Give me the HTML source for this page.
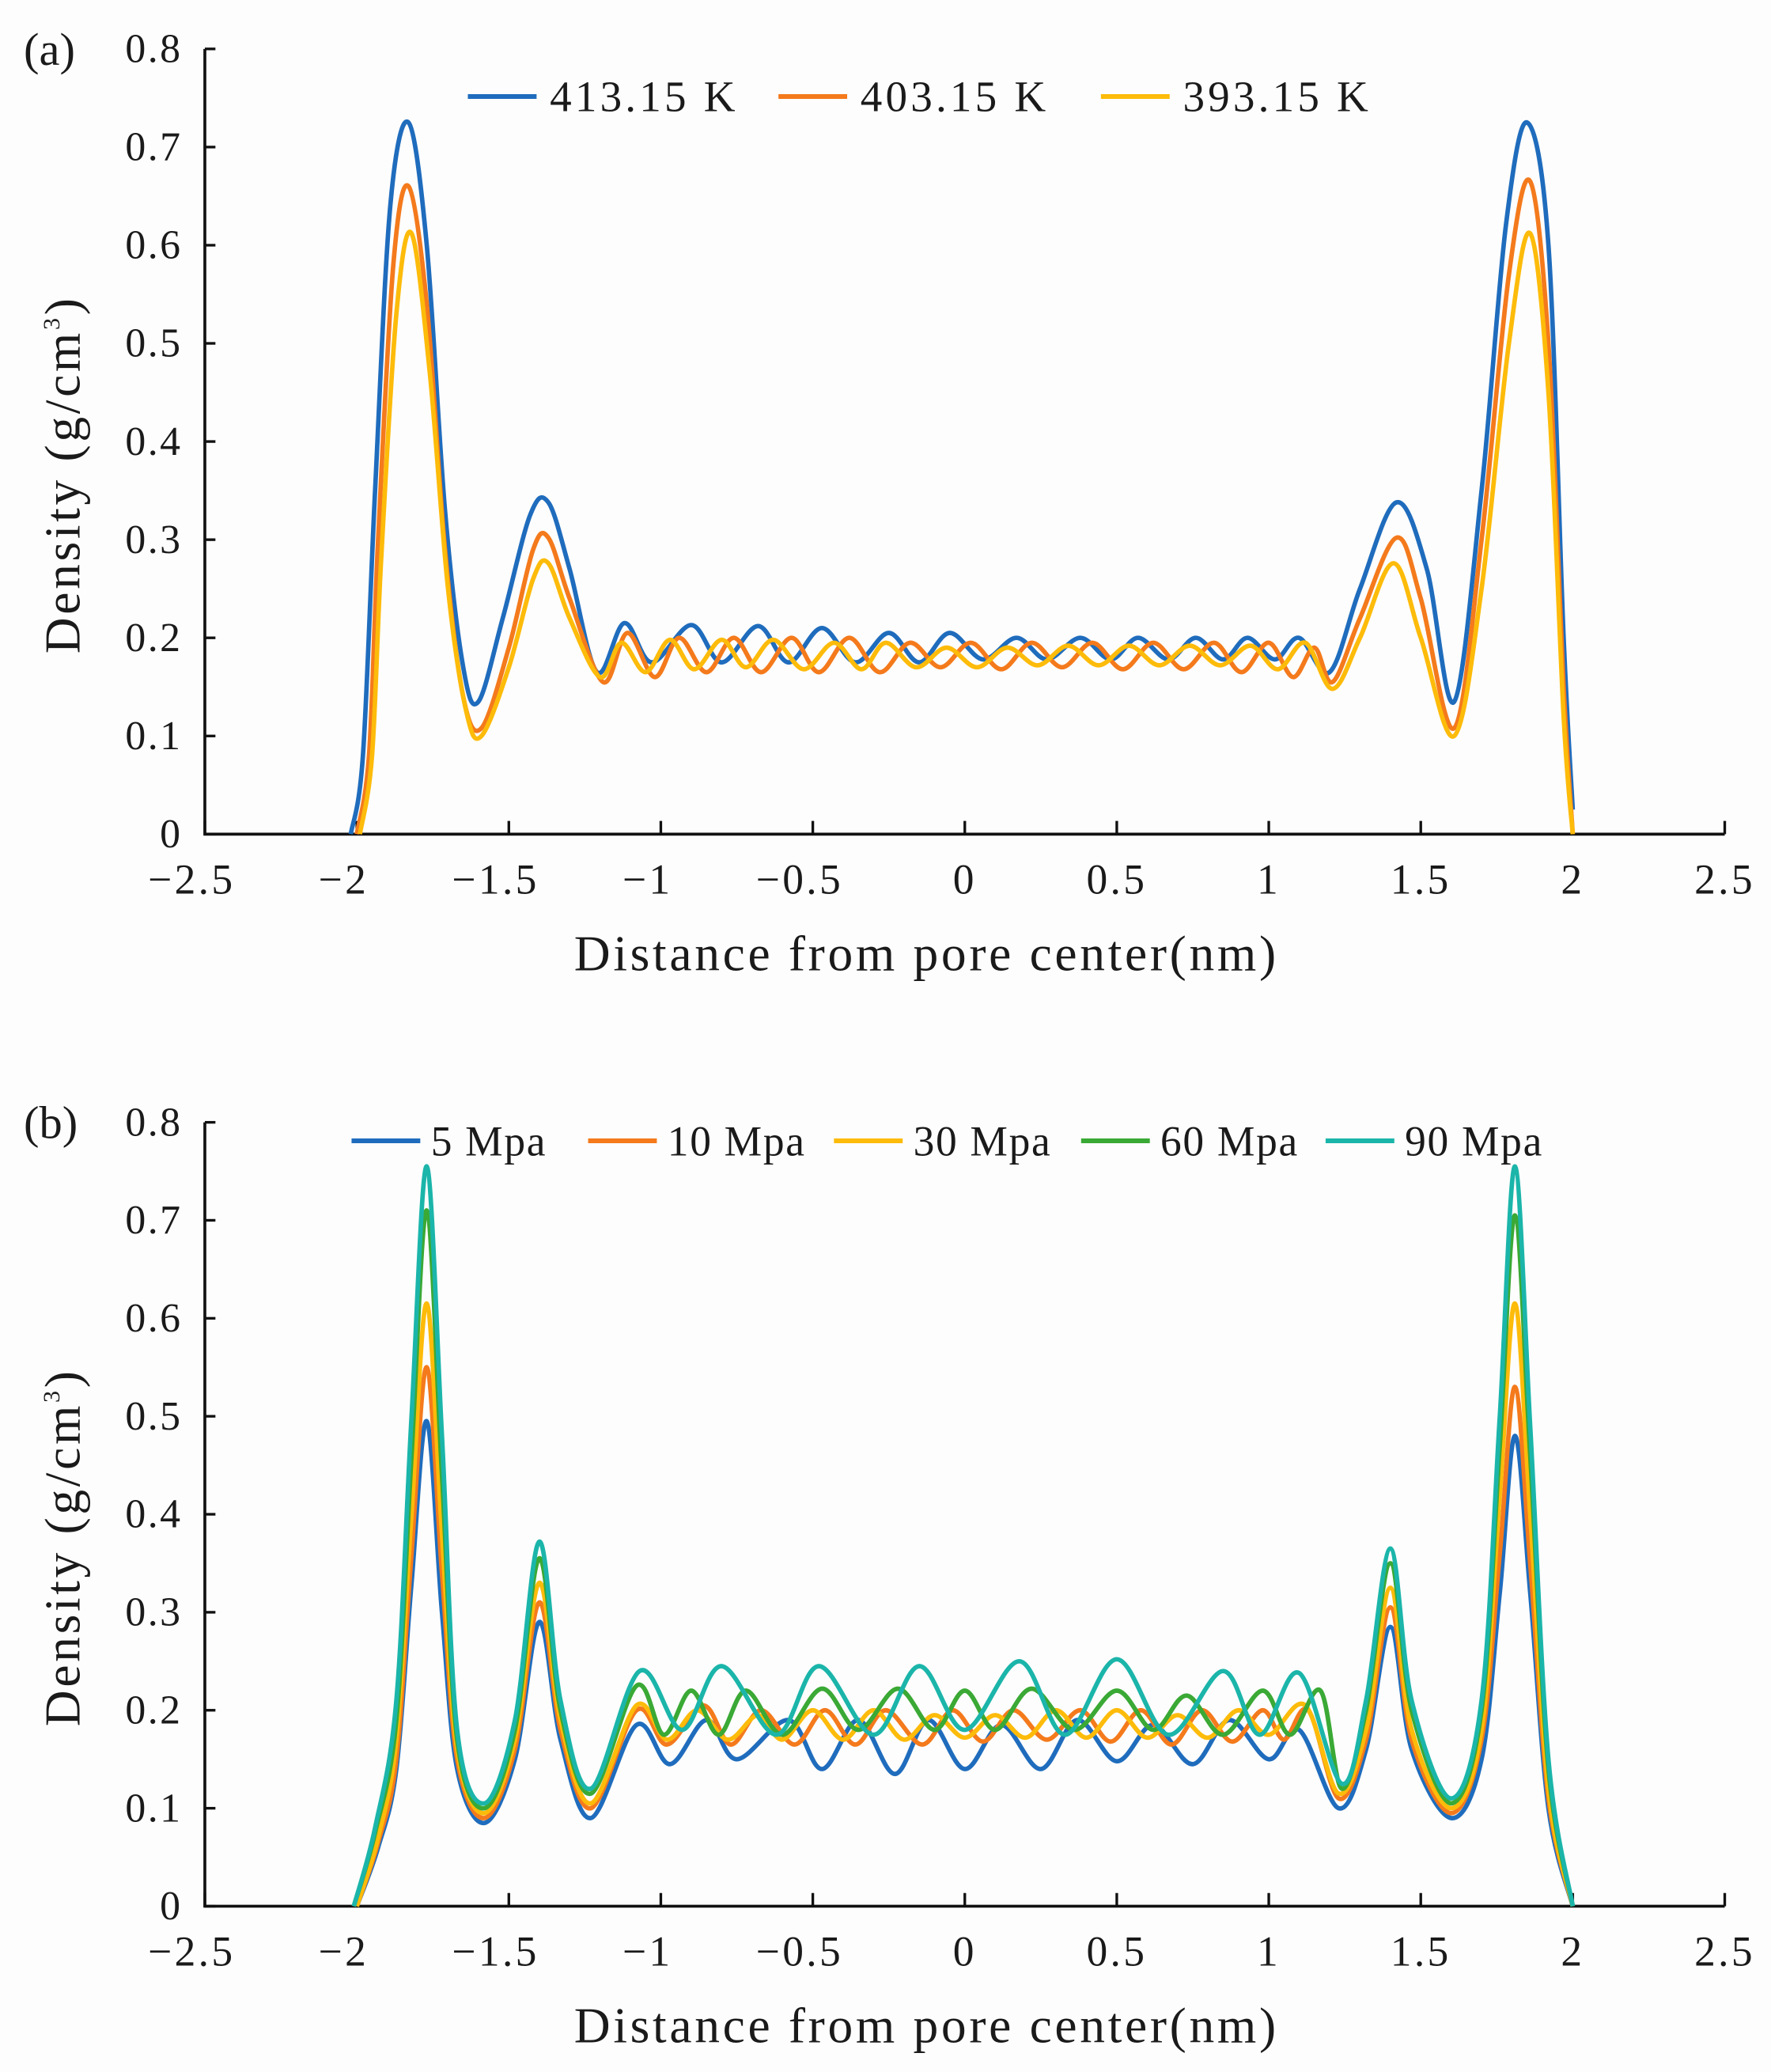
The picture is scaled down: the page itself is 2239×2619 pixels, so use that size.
<!DOCTYPE html>
<html><head><meta charset="utf-8"><style>
html,body{margin:0;padding:0;background:#fdfdfd;}
svg{display:block;}
text{font-family:"Liberation Serif",serif;fill:#1a1a1a;}
</style></head><body>
<svg id="fig" width="2239" height="2619" viewBox="0 0 1340 1567.4" preserveAspectRatio="none" xmlns="http://www.w3.org/2000/svg"></svg>
<script>
// ---- data ----
const xTicks = [-2.5,-2,-1.5,-1,-0.5,0,0.5,1,1.5,2,2.5];
const yTicks = [0,0.1,0.2,0.3,0.4,0.5,0.6,0.7,0.8];
const legendA = ["413.15 K","403.15 K","393.15 K"];
const legendB = ["5 Mpa","10 Mpa","30 Mpa","60 Mpa","90 Mpa"];
const a413 = [[-2.02,0],[-1.98,0.08],[-1.94,0.35],[-1.89,0.64],[-1.83,0.725],[-1.77,0.6],[-1.71,0.33],[-1.65,0.17],[-1.6,0.135],[-1.52,0.22],[-1.43,0.325],[-1.37,0.338],[-1.3,0.27],[-1.21,0.165],[-1.12,0.215],[-1.03,0.175],[-0.9,0.213],[-0.8,0.175],[-0.68,0.212],[-0.58,0.175],[-0.47,0.21],[-0.36,0.175],[-0.25,0.205],[-0.15,0.175],[-0.05,0.205],[0.06,0.178],[0.17,0.2],[0.27,0.178],[0.38,0.2],[0.48,0.178],[0.57,0.2],[0.67,0.178],[0.76,0.2],[0.85,0.178],[0.93,0.2],[1.02,0.178],[1.1,0.2],[1.2,0.165],[1.3,0.25],[1.42,0.338],[1.52,0.27],[1.61,0.135],[1.7,0.35],[1.78,0.62],[1.85,0.725],[1.92,0.6],[1.97,0.2],[2.0,0.025]];
const a403 = [[-2.0,0],[-1.96,0.08],[-1.93,0.3],[-1.88,0.58],[-1.83,0.66],[-1.77,0.54],[-1.71,0.29],[-1.65,0.14],[-1.59,0.108],[-1.5,0.19],[-1.42,0.29],[-1.37,0.302],[-1.3,0.24],[-1.19,0.155],[-1.11,0.205],[-1.02,0.16],[-0.94,0.2],[-0.85,0.165],[-0.76,0.2],[-0.67,0.165],[-0.57,0.2],[-0.48,0.165],[-0.38,0.2],[-0.28,0.165],[-0.18,0.195],[-0.08,0.17],[0.02,0.195],[0.12,0.168],[0.22,0.195],[0.32,0.17],[0.42,0.195],[0.52,0.168],[0.62,0.195],[0.72,0.168],[0.82,0.195],[0.91,0.165],[1.0,0.195],[1.08,0.16],[1.15,0.19],[1.21,0.155],[1.3,0.22],[1.42,0.302],[1.5,0.24],[1.61,0.108],[1.7,0.3],[1.79,0.57],[1.86,0.665],[1.92,0.5],[1.97,0.15],[2.0,0]];
const a393 = [[-1.99,0],[-1.95,0.08],[-1.92,0.28],[-1.87,0.53],[-1.82,0.612],[-1.76,0.47],[-1.7,0.25],[-1.64,0.125],[-1.59,0.1],[-1.5,0.17],[-1.42,0.26],[-1.37,0.276],[-1.3,0.22],[-1.2,0.16],[-1.13,0.195],[-1.05,0.165],[-0.97,0.198],[-0.89,0.168],[-0.8,0.198],[-0.72,0.17],[-0.63,0.198],[-0.53,0.168],[-0.43,0.195],[-0.34,0.168],[-0.26,0.195],[-0.16,0.17],[-0.06,0.19],[0.04,0.17],[0.14,0.19],[0.24,0.172],[0.34,0.192],[0.44,0.172],[0.54,0.192],[0.64,0.172],[0.74,0.192],[0.84,0.172],[0.94,0.192],[1.03,0.168],[1.12,0.195],[1.21,0.148],[1.3,0.2],[1.41,0.276],[1.5,0.2],[1.61,0.1],[1.7,0.25],[1.79,0.5],[1.86,0.612],[1.92,0.45],[1.97,0.12],[2.0,0]];
const b5 = [[-2.0,0],[-1.93,0.06],[-1.87,0.14],[-1.82,0.33],[-1.77,0.495],[-1.72,0.3],[-1.67,0.14],[-1.58,0.085],[-1.48,0.15],[-1.4,0.29],[-1.33,0.17],[-1.23,0.09],[-1.08,0.185],[-0.97,0.145],[-0.85,0.19],[-0.75,0.15],[-0.58,0.19],[-0.47,0.14],[-0.35,0.19],[-0.23,0.135],[-0.12,0.19],[0,0.14],[0.12,0.185],[0.25,0.14],[0.37,0.19],[0.5,0.148],[0.62,0.185],[0.75,0.145],[0.87,0.19],[1.0,0.15],[1.1,0.18],[1.23,0.1],[1.32,0.16],[1.4,0.285],[1.47,0.16],[1.6,0.09],[1.7,0.15],[1.76,0.32],[1.81,0.48],[1.86,0.32],[1.92,0.1],[2.0,0]];
const b10 = [[-2.0,0],[-1.93,0.065],[-1.87,0.15],[-1.82,0.36],[-1.77,0.55],[-1.72,0.34],[-1.67,0.15],[-1.58,0.09],[-1.48,0.16],[-1.4,0.31],[-1.33,0.18],[-1.23,0.1],[-1.08,0.2],[-0.98,0.165],[-0.86,0.205],[-0.77,0.165],[-0.67,0.2],[-0.56,0.165],[-0.46,0.2],[-0.36,0.165],[-0.26,0.2],[-0.14,0.165],[-0.04,0.2],[0.06,0.168],[0.16,0.2],[0.27,0.17],[0.38,0.2],[0.48,0.168],[0.58,0.2],[0.68,0.165],[0.78,0.2],[0.88,0.168],[0.98,0.2],[1.05,0.17],[1.13,0.2],[1.23,0.11],[1.32,0.17],[1.4,0.305],[1.47,0.17],[1.6,0.095],[1.7,0.17],[1.76,0.36],[1.81,0.53],[1.86,0.35],[1.92,0.11],[2.0,0]];
const b30 = [[-2.0,0],[-1.93,0.07],[-1.87,0.17],[-1.82,0.4],[-1.77,0.615],[-1.72,0.38],[-1.67,0.16],[-1.58,0.095],[-1.48,0.17],[-1.4,0.33],[-1.33,0.19],[-1.23,0.105],[-1.08,0.205],[-0.98,0.17],[-0.88,0.2],[-0.78,0.17],[-0.68,0.195],[-0.6,0.17],[-0.5,0.2],[-0.4,0.17],[-0.3,0.2],[-0.2,0.17],[-0.1,0.195],[0.0,0.172],[0.1,0.195],[0.2,0.172],[0.3,0.2],[0.4,0.172],[0.5,0.2],[0.6,0.172],[0.7,0.195],[0.8,0.172],[0.9,0.2],[1.0,0.175],[1.12,0.205],[1.23,0.115],[1.32,0.18],[1.4,0.325],[1.47,0.18],[1.6,0.1],[1.7,0.18],[1.76,0.42],[1.81,0.615],[1.86,0.4],[1.92,0.12],[2.0,0]];
const b60 = [[-2.01,0],[-1.94,0.075],[-1.87,0.19],[-1.82,0.46],[-1.77,0.71],[-1.72,0.44],[-1.67,0.17],[-1.58,0.1],[-1.48,0.18],[-1.4,0.355],[-1.33,0.2],[-1.23,0.115],[-1.08,0.225],[-0.99,0.175],[-0.9,0.22],[-0.81,0.175],[-0.72,0.22],[-0.6,0.175],[-0.47,0.222],[-0.35,0.18],[-0.22,0.222],[-0.1,0.18],[0.0,0.22],[0.1,0.18],[0.22,0.222],[0.36,0.18],[0.5,0.22],[0.62,0.18],[0.73,0.215],[0.85,0.175],[0.98,0.22],[1.07,0.175],[1.17,0.22],[1.24,0.12],[1.32,0.2],[1.4,0.35],[1.47,0.2],[1.6,0.105],[1.7,0.2],[1.76,0.47],[1.81,0.705],[1.86,0.46],[1.92,0.14],[2.0,0]];
const b90 = [[-2.01,0],[-1.94,0.08],[-1.87,0.21],[-1.82,0.5],[-1.77,0.755],[-1.72,0.48],[-1.67,0.18],[-1.58,0.105],[-1.48,0.19],[-1.4,0.372],[-1.33,0.21],[-1.23,0.12],[-1.07,0.24],[-0.93,0.18],[-0.8,0.245],[-0.62,0.175],[-0.48,0.245],[-0.3,0.175],[-0.15,0.245],[0.0,0.18],[0.18,0.25],[0.33,0.175],[0.5,0.252],[0.67,0.175],[0.85,0.24],[0.97,0.175],[1.1,0.238],[1.24,0.125],[1.32,0.21],[1.4,0.365],[1.47,0.21],[1.6,0.11],[1.7,0.21],[1.76,0.5],[1.81,0.755],[1.86,0.49],[1.92,0.15],[2.0,0]];

const NS="http://www.w3.org/2000/svg";
const svg=document.getElementById('fig');
function mk(tag,attrs,parent){const e=document.createElementNS(NS,tag);for(const k in attrs)e.setAttribute(k,attrs[k]);(parent||svg).appendChild(e);return e;}
function fmt(v){return String(v).replace('-','\u2212');}
function spline(pts){
  let d='M'+pts[0][0].toFixed(2)+','+pts[0][1].toFixed(2);
  for(let i=0;i<pts.length-1;i++){
    const p0=pts[Math.max(0,i-1)],p1=pts[i],p2=pts[i+1],p3=pts[Math.min(pts.length-1,i+2)];
    const c1x=p1[0]+(p2[0]-p0[0])/6,c1y=p1[1]+(p2[1]-p0[1])/6;
    const c2x=p2[0]-(p3[0]-p1[0])/6,c2y=p2[1]-(p3[1]-p1[1])/6;
    d+=' C'+c1x.toFixed(2)+','+c1y.toFixed(2)+' '+c2x.toFixed(2)+','+c2y.toFixed(2)+' '+p2[0].toFixed(2)+','+p2[1].toFixed(2);
  }
  return d;
}
function panel(name,label,y0,yTop,series,colors,legend,legX,legY){
  const g=mk('g',{});
  
  
  const X=v=>155+(v+2.5)*230;
  const Y=v=>y0-v*(y0-yTop)/0.8;
  const ax=mk('path',{d:`M155,${yTop} L155,${y0} L1305,${y0}`,stroke:'#111','stroke-width':2.2,fill:'none'},g);
  
  
  yTicks.forEach(t=>{
    mk('line',{x1:155,x2:163,y1:Y(t),y2:Y(t),stroke:'#111','stroke-width':2},g);
    const tx=mk('text',{x:138,y:Y(t)+10,'text-anchor':'end','font-size':31,'letter-spacing':1.5},g);
    tx.textContent=fmt(t);
    
    
  });
  xTicks.forEach(t=>{
    mk('line',{x1:X(t),x2:X(t),y1:y0,y2:y0-10,stroke:'#111','stroke-width':2},g);
    const tx=mk('text',{x:X(t)-(t<0?10:0),y:y0+45,'text-anchor':'middle','font-size':32,'letter-spacing':2},g);
    tx.textContent=fmt(t);
    
    
  });
  const xt=mk('text',{x:701,y:y0+103,'text-anchor':'middle','font-size':38,'letter-spacing':2.2},g);
  xt.textContent='Distance from pore center(nm)';
  
  
  const yc=(y0+yTop)/2+25;
  const yt=mk('text',{x:0,y:0,'text-anchor':'middle','font-size':38,'letter-spacing':2.2,transform:`translate(60,${yc}) rotate(-90)`},g);
  yt.innerHTML='Density (g/cm<tspan dy="-15" font-size="18">3</tspan><tspan dy="15">)</tspan>';
  
  
  const pl=mk('text',{x:18,y:yTop+12,'font-size':35},g);
  pl.textContent=label;
  
  
  series.forEach((s,i)=>{
    const p=mk('path',{d:spline(s.map(q=>[X(q[0]),Y(q[1])])),stroke:colors[i],'stroke-width':3.4,fill:'none','stroke-linejoin':'round'},g);
    
    
  });
  legend.forEach((l,i)=>{
    const lg=mk('g',{},g);
    
    
    mk('line',{x1:legX[i],x2:legX[i]+52,y1:legY,y2:legY,stroke:colors[i],'stroke-width':3.6},lg);
    const t=mk('text',{x:legX[i]+(legend.length>3?60:62),y:legY+11,'font-size':legend.length>3?32:33,'letter-spacing':legend.length>3?1:2.5},lg);
    t.textContent=l;
  });
}
panel('panel-a-temperature','(a)',631,37,[a413,a403,a393],['#1f6cbd','#f47a1c','#fdbb0a'],legendA,[354,589,833],73);
panel('panel-b-pressure','(b)',1442,849,[b5,b10,b30,b60,b90],['#1f6cbd','#f47a1c','#fdbb0a','#3aa935','#1bb5aa'],legendB,[266,445,631,818,1003],863);
</script>
</body></html>
